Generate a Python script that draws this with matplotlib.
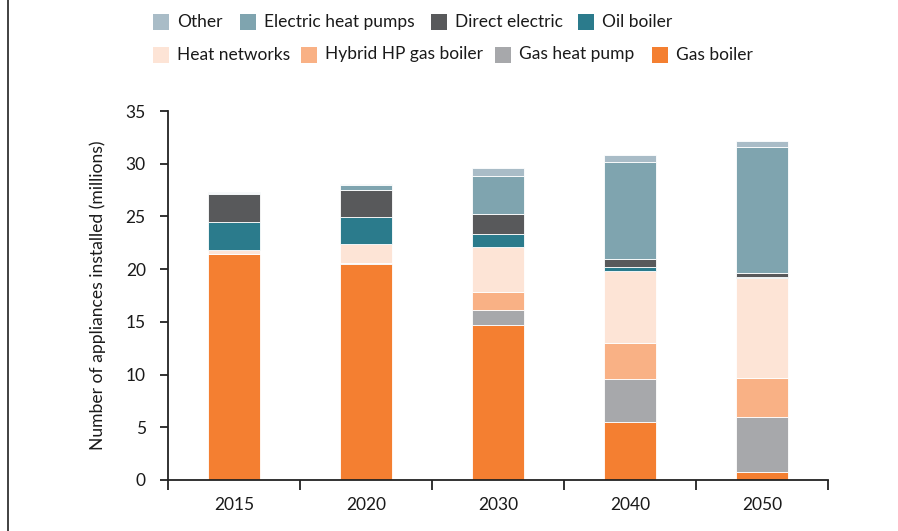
import matplotlib
matplotlib.use("Agg")
import matplotlib.pyplot as plt
from matplotlib.patches import Rectangle
from matplotlib.lines import Line2D
import numpy as np

plt.rcParams['font.family'] = ['Lato', 'DejaVu Sans']

years = ['2015', '2020', '2030', '2040', '2050']
series_names = ['Gas boiler', 'Gas heat pump', 'Hybrid HP gas boiler', 'Heat networks',
                'Oil boiler', 'Direct electric', 'Electric heat pumps', 'Other']
gas_boiler      = [21.4, 20.45, 14.7, 5.5, 0.8]
gas_heat_pump   = [0.0, 0.1, 1.4, 4.05, 5.2]
hybrid_hp       = [0.05, 0.05, 1.7, 3.43, 3.7]
heat_networks   = [0.4, 1.8, 4.3, 6.8, 9.45]
oil_boiler      = [2.65, 2.5, 1.27, 0.45, 0.1]
direct_electric = [2.65, 2.6, 1.9, 0.76, 0.35]
electric_hp     = [0.08, 0.45, 3.6, 9.22, 12.0]
other           = [0.12, 0.1, 0.73, 0.61, 0.57]
series_values = [gas_boiler, gas_heat_pump, hybrid_hp, heat_networks,
                 oil_boiler, direct_electric, electric_hp, other]
colors = ['#F47F31', '#A7A8AB', '#F9B185', '#FDE4D6',
          '#2B7B8C', '#58595B', '#7FA4AF', '#A9BCC7']

W, H = 898, 531
fig = plt.figure(figsize=(W / 100, H / 100), dpi=100)
ax = fig.add_axes([168 / W, 1 - 480 / H, 660 / W, 369 / H])

x = np.arange(len(years)) + 0.5
bottom = np.zeros(len(years))
for vals, col in zip(series_values, colors):
    v = np.array(vals)
    ax.bar(x, v, width=0.4, bottom=bottom, color=col, edgecolor='white', linewidth=0.6)
    bottom += v

ax.set_xlim(0, 5)
ax.set_ylim(0, 35)
ax.set_yticks(np.arange(0, 36, 5))
ax.set_xticks(np.arange(0, 6))
ax.set_xticklabels([])
ax.set_xticks(x, years, minor=True)
ax.tick_params(axis='x', which='major', length=7, width=1.3, color='#222222', direction='out')
ax.tick_params(axis='x', which='minor', length=0, pad=12, labelsize=12.5, labelcolor='#1a1a1a')
ax.tick_params(axis='y', length=6, width=1.3, color='#222222', pad=10, labelsize=12.5, labelcolor='#1a1a1a')
for s in ['top', 'right']:
    ax.spines[s].set_visible(False)
for s in ['left', 'bottom']:
    ax.spines[s].set_linewidth(1.3)
    ax.spines[s].set_color('#222222')
ax.set_ylabel('Number of appliances installed (millions)', fontsize=12.6, color='#1a1a1a', labelpad=14)

# legend laid out manually (two rows)
legend_rows = [
    [('Other', 153), ('Electric heat pumps', 240), ('Direct electric', 431), ('Oil boiler', 578)],
    [('Heat networks', 153), ('Hybrid HP gas boiler', 301), ('Gas heat pump', 495), ('Gas boiler', 652)],
]
row_y = [22, 54.5]
for row, yc in zip(legend_rows, row_y):
    for name, px in row:
        col = colors[series_names.index(name)]
        fig.patches.append(Rectangle((px / W, 1 - (yc + 8) / H), 16 / W, 16 / H,
                                     transform=fig.transFigure, facecolor=col,
                                     edgecolor='none'))
        fig.text((px + 24) / W, 1 - yc / H, name, fontsize=12.5, va='center',
                 ha='left', color='#1a1a1a')

fig.add_artist(Line2D([8 / W, 8 / W], [0, 1], transform=fig.transFigure,
                      color='#333333', linewidth=1.3))

fig.savefig('out.png', dpi=100)
